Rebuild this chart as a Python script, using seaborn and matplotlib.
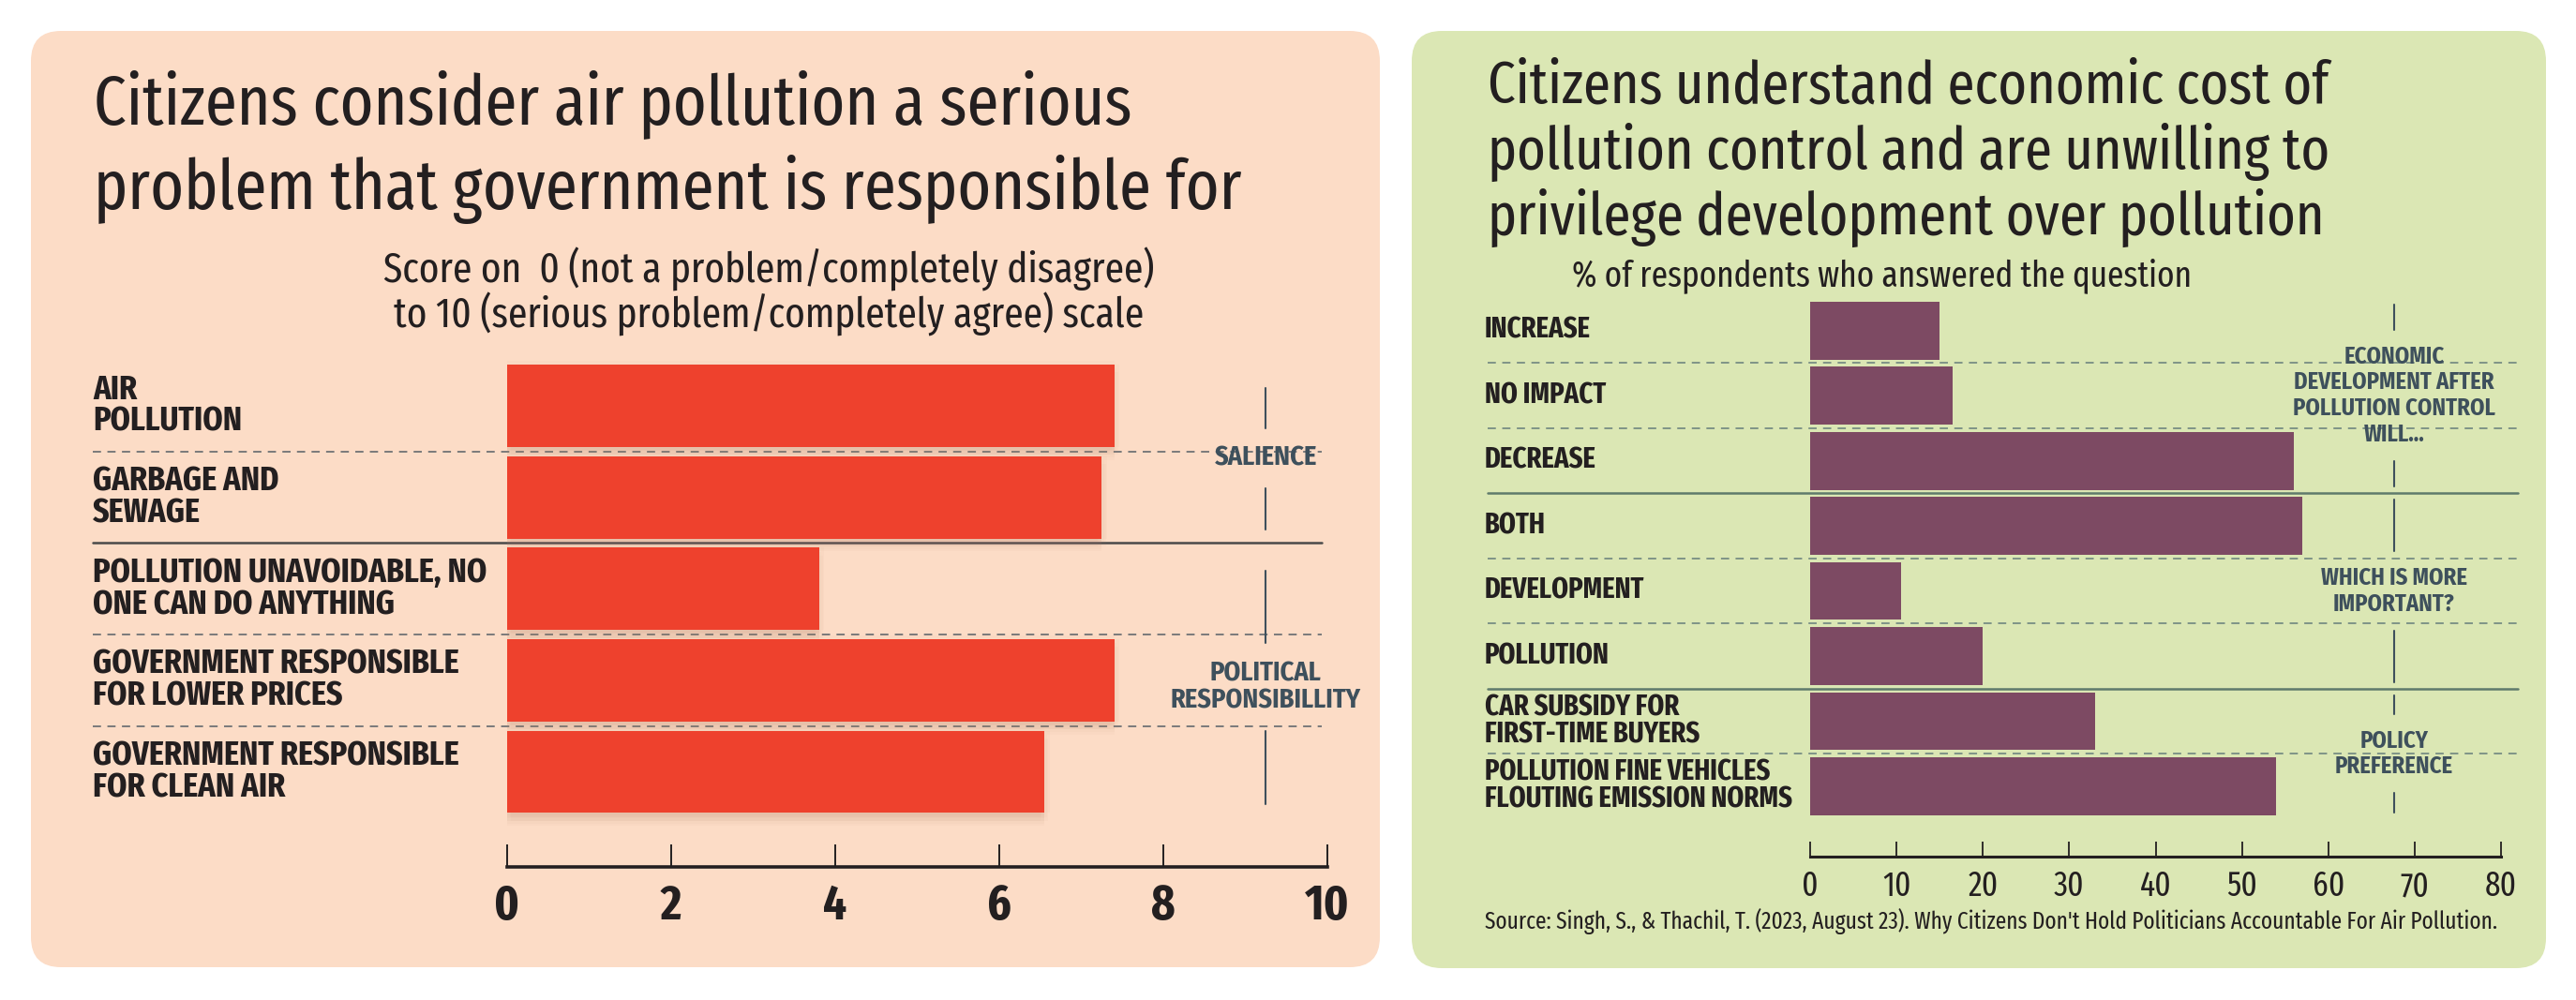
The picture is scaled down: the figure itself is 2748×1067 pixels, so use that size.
import matplotlib
matplotlib.use("Agg")
import matplotlib.pyplot as plt
import matplotlib.patheffects as pe
import seaborn as sns
import pandas as pd
from matplotlib import font_manager
from matplotlib.patches import FancyBboxPatch
from matplotlib.transforms import blended_transform_factory

# ---- data ----
issue_labels = [
    "AIR\nPOLLUTION",
    "GARBAGE AND\nSEWAGE",
    "POLLUTION UNAVOIDABLE, NO\nONE CAN DO ANYTHING",
    "GOVERNMENT RESPONSIBLE\nFOR LOWER PRICES",
    "GOVERNMENT RESPONSIBLE\nFOR CLEAN AIR",
]
issue_scores = [7.4, 7.25, 3.8, 7.4, 6.55]
score_ticks = [0, 2, 4, 6, 8, 10]
issue_groups = ["SALIENCE", "POLITICAL\nRESPONSIBILLITY"]
issue_group_rows = [(0, 1), (2, 4)]

answer_labels = [
    "INCREASE",
    "NO IMPACT",
    "DECREASE",
    "BOTH",
    "DEVELOPMENT",
    "POLLUTION",
    "CAR SUBSIDY FOR\nFIRST-TIME BUYERS",
    "POLLUTION FINE VEHICLES\nFLOUTING EMISSION NORMS",
]
answer_pcts = [15, 16.5, 56, 57, 10.5, 20, 33, 54]
pct_ticks = [0, 10, 20, 30, 40, 50, 60, 70, 80]
answer_groups = [
    "ECONOMIC\nDEVELOPMENT AFTER\nPOLLUTION CONTROL\nWILL...",
    "WHICH IS MORE\nIMPORTANT?",
    "POLICY\nPREFERENCE",
]
answer_group_rows = [(0, 2), (3, 5), (6, 7)]

# ---- style ----
PEACH = "#fcdcc6"
GREEN = "#dbe7b4"
RED = "#ee412d"
PURPLE = "#7d4a63"
SLATE = "#3e505c"
INK = "#231f20"

W, H = 2748, 1067
sns.set_theme(style="white")

installed = {f.name for f in font_manager.fontManager.ttflist}


def pick(*names):
    for n in names:
        if n in installed:
            return n
    return "DejaVu Sans"


COND = pick("Fira Sans Extra Condensed", "Barlow Condensed", "Roboto Condensed")
ANNOT = pick("Fira Sans Condensed", "Open Sans Condensed", "Roboto Condensed")
plt.rcParams["font.family"] = [COND, "DejaVu Sans"]

fig = plt.figure(figsize=(W / 100, H / 100), dpi=100)
fig.patch.set_facecolor("white")
renderer = fig.canvas.get_renderer()


def fx(x):
    return x / W


def fy(y):
    return 1 - y / H


def fit(t, width_px):
    w = t.get_window_extent(renderer).width
    t.set_fontsize(t.get_fontsize() * width_px / w)
    return t


def panel(x0, y0, x1, y1, color):
    fig.add_artist(FancyBboxPatch(
        (x0 / 100, (H - y1) / 100), (x1 - x0) / 100, (y1 - y0) / 100,
        boxstyle="round,pad=0,rounding_size=0.32", transform=fig.dpi_scale_trans,
        facecolor=color, edgecolor="none", zorder=0))


def make_axes(x0px, x1px, top, bottom):
    ax = fig.add_axes([fx(x0px), fy(bottom), (x1px - x0px) / W, (bottom - top) / H])
    ax.set_facecolor("none")
    for s in ["top", "right", "left"]:
        ax.spines[s].set_visible(False)
    ax.spines["bottom"].set_color(INK)
    return ax


def group_markers(ax, labels, rows, xval, top_in, bot_in, gap, fit_text, fit_px, linesp):
    inv = ax.transData.inverted()
    texts = []
    for lab, (a, b) in zip(labels, rows):
        y0, y1 = a - 0.45 + top_in, b + 0.45 - bot_in
        t = ax.text(xval, (y0 + y1) / 2, lab, ha="center", va="center", color=SLATE,
                    fontsize=14, fontweight="bold", family=[ANNOT, "DejaVu Sans"],
                    linespacing=linesp, zorder=5)
        texts.append((t, y0, y1))
    probe = ax.text(0, 0, fit_text, fontsize=14, fontweight="bold",
                    family=[ANNOT, "DejaVu Sans"])
    fit(probe, fit_px)
    fs = probe.get_fontsize()
    probe.remove()
    g = gap / (ax.transData.transform((0, 0))[1] - ax.transData.transform((0, 1))[1])
    for t, y0, y1 in texts:
        t.set_fontsize(fs)
        bb = t.get_window_extent(renderer)
        top = inv.transform((bb.x0, bb.y1))[1]
        bot = inv.transform((bb.x0, bb.y0))[1]
        ax.plot([xval, xval], [y0, top - g], color=SLATE, lw=1.5, clip_on=False)
        ax.plot([xval, xval], [bot + g, y1], color=SLATE, lw=1.5, clip_on=False)


def row_labels(ax, labels, xpx, fit_idx, fit_px, linesp):
    tr = blended_transform_factory(fig.transFigure, ax.transData)
    ts = [ax.text(fx(xpx), i, lab, transform=tr, ha="left", va="center", fontsize=18,
                  fontweight="bold", color=INK, linespacing=linesp)
          for i, lab in enumerate(labels)]
    fit(ts[fit_idx], fit_px)
    for t in ts:
        t.set_fontsize(ts[fit_idx].get_fontsize())


def separators(ax, n, solid_after, xmin, xmax, solid_color, dash_color):
    for i in range(n - 1):
        solid = i in solid_after
        ax.axhline(i + 0.5, xmin=xmin, xmax=xmax, clip_on=False, zorder=1,
                   color=solid_color if solid else dash_color, lw=1.8 if solid else 1.4,
                   linestyle="-" if solid else (0, (4.5, 3.5)))


def style_axis(ax, lim, ticks, spine_w, tick_len, tick_w, pad, size, weight):
    ax.set_xlim(*lim)
    ax.set_xlabel("")
    ax.set_ylabel("")
    ax.set_yticks([])
    ax.set_xticks(ticks)
    ax.spines["bottom"].set_linewidth(spine_w)
    ax.tick_params(axis="x", bottom=True, direction="in", length=tick_len, width=tick_w,
                   color=INK, pad=pad, labelsize=size, labelcolor=INK)
    for lab in ax.get_xticklabels():
        lab.set_fontweight(weight)


# ================= left panel =================
panel(33, 33, 1472, 1032, PEACH)

t = fig.text(fx(100), fy(132), "Citizens consider air pollution a serious", fontsize=48,
             color=INK, va="baseline", ha="left")
fit(t, 1108)
fig.text(fx(100), fy(223), "problem that government is responsible for",
         fontsize=t.get_fontsize(), color=INK, va="baseline", ha="left")
st = fig.text(fx(820), fy(302), "Score on  0 (not a problem/completely disagree)",
              fontsize=24, color=INK, va="baseline", ha="center")
fit(st, 821)
fig.text(fx(820), fy(350), "to 10 (serious problem/completely agree) scale",
         fontsize=st.get_fontsize(), color=INK, va="baseline", ha="center")

axL = make_axes(541, 1416, 374, 925)
dfL = pd.DataFrame({"issue": issue_labels, "score": issue_scores})
sns.barplot(data=dfL, x="score", y="issue", orient="h", color=RED, saturation=1,
            width=0.9, linewidth=0, ax=axL, zorder=3)
shadow = [pe.SimplePatchShadow(offset=(dx, dy), shadow_rgbFace="#b8866c", alpha=0.035)
          for dx, dy in [(0, -2), (0, -4), (0, -6), (0, -8), (0, -10), (2, -3), (-2, -3),
                         (3, -6), (-3, -6), (4, 0), (-4, 0), (0, 3)]] + [pe.Normal()]
for bar in axL.patches:
    bar.set_path_effects(shadow)
axL.set_ylim(5.04, -0.605)
style_axis(axL, (0, 10), score_ticks, 2.6, 17, 1.4, 12, 38, "bold")

separators(axL, len(issue_labels), [1], -0.505, 0.993, "#4a4a4a", "#7a7a7a")
row_labels(axL, issue_labels, 99, 2, 420, 0.95)
group_markers(axL, issue_groups, issue_group_rows, 9.25, 0.25, 0.1, 18,
              "RESPONSIBILLITY", 205, 1.05)

# ================= right panel =================
panel(1506, 33, 2716, 1033, GREEN)

rt = fig.text(fx(1587), fy(110), "Citizens understand economic cost of", fontsize=40,
              color=INK, va="baseline", ha="left")
fit(rt, 897)
fig.text(fx(1587), fy(180), "pollution control and are unwilling to",
         fontsize=rt.get_fontsize(), color=INK, va="baseline", ha="left")
fig.text(fx(1587), fy(250), "privilege development over pollution",
         fontsize=rt.get_fontsize(), color=INK, va="baseline", ha="left")
rs = fig.text(fx(1677), fy(305), "% of respondents who answered the question",
              fontsize=20, color=INK, va="baseline", ha="left")
fit(rs, 662)

axR = make_axes(1931, 2668, 311, 914)
dfR = pd.DataFrame({"answer": answer_labels, "pct": answer_pcts})
sns.barplot(data=dfR, x="pct", y="answer", orient="h", color=PURPLE, saturation=1,
            width=0.89, linewidth=0, ax=axR, zorder=3)
axR.set_ylim(8.08, -0.6)
style_axis(axR, (0, 80), pct_ticks, 2.2, 11.5, 1.3, 10, 26, "normal")

separators(axR, len(answer_labels), [2, 5], -0.467, 1.024, "#5f7a6c", "#7f9487")
row_labels(axR, answer_labels, 1584, 7, 328, 0.95)
group_markers(axR, answer_groups, answer_group_rows, 67.6, 0.05, 0.05, 16,
              "DEVELOPMENT AFTER", 214, 1.15)

src = fig.text(fx(1584), fy(983),
               "Source: Singh, S., & Thachil, T. (2023, August 23). Why Citizens Don't Hold "
               "Politicians Accountable For Air Pollution.",
               fontsize=14, color=INK, va="center", ha="left")
fit(src, 1080)

fig.savefig("out.png", dpi=100, facecolor="white")
